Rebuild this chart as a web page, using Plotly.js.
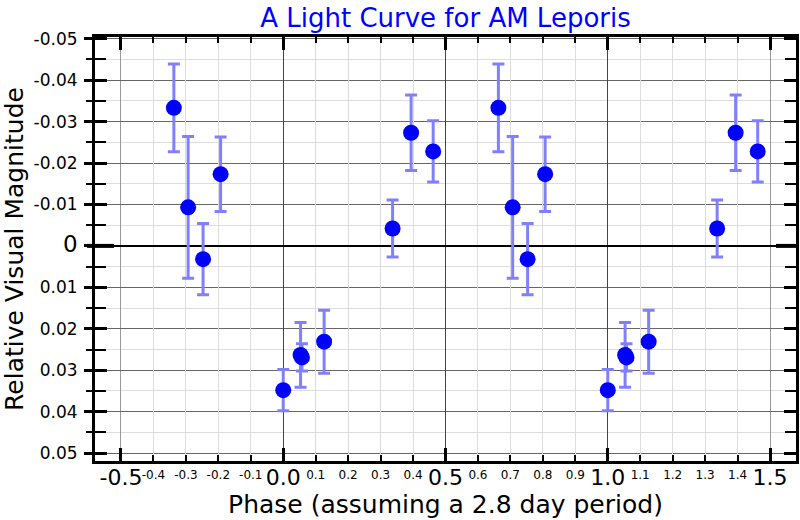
<!DOCTYPE html>
<html>
<head>
<meta charset="utf-8">
<script src="https://cdn.plot.ly/plotly-3.0.1.min.js"></script>
<style>html,body{margin:0;padding:0;background:#fff;}#chart{width:800px;height:520px;}</style>
</head>
<body>
<div id="chart"></div>
<script>
// Phase (0..1) of each observation, magnitude relative to mean, and 1-sigma error
const phases = [0.000, 0.0534, 0.0577, 0.126, 0.337, 0.394, 0.462, 0.663, 0.707, 0.753, 0.807];
const magnitudes = [0.0348, 0.0263, 0.0269, 0.0231, -0.0042, -0.0273, -0.0228, -0.0333, -0.0093, 0.0032, -0.0173];
const errors = [0.0050, 0.0078, 0.0033, 0.0076, 0.0069, 0.0091, 0.0074, 0.0106, 0.0171, 0.0086, 0.0090];

// Tick positions and labels
const xMajorTicks = [-0.5, 0.0, 0.5, 1.0, 1.5];
const xMajorLabels = ["-0.5", "0.0", "0.5", "1.0", "1.5"];
const xMinorTicks = [-0.4, -0.3, -0.2, -0.1, 0.1, 0.2, 0.3, 0.4, 0.6, 0.7, 0.8, 0.9, 1.1, 1.2, 1.3, 1.4];
const xMinorLabels = ["-0.4", "-0.3", "-0.2", "-0.1", "0.1", "0.2", "0.3", "0.4", "0.6", "0.7", "0.8", "0.9", "1.1", "1.2", "1.3", "1.4"];
const xDarkLines = [0.0, 0.5, 1.0];
const yMajorTicks = [-0.05, -0.04, -0.03, -0.02, -0.01, 0, 0.01, 0.02, 0.03, 0.04, 0.05];
const yMajorLabels = ["-0.05", "-0.04", "-0.03", "-0.02", "-0.01", "<span style=\"font-size:23px\">0</span>", "0.01", "0.02", "0.03", "0.04", "0.05"];
const yMinorTicks = [-0.045, -0.035, -0.025, -0.015, -0.005, 0.005, 0.015, 0.025, 0.035, 0.045];

const xRange = [-0.58, 1.58];
const yRange = [0.0519, -0.0504];
const phaseWindow = [-0.5, 1.5];

// The light curve is shown over two cycles: repeat each point one period earlier/later,
// keeping the copies that fall inside the plotted phase window
const xs = [], ys = [], es = [];
[-1, 0, 1].forEach(function (shift) {
  phases.forEach(function (p, i) {
    const ph = p + shift;
    if (ph >= phaseWindow[0] && ph <= phaseWindow[1]) {
      xs.push(ph); ys.push(magnitudes[i]); es.push(errors[i]);
    }
  });
});

const data = [
  {x: xs, y: ys, type: 'scatter', mode: 'markers', xaxis: 'x', yaxis: 'y',
   marker: {color: '#0000ff', size: 16},
   error_y: {type: 'data', array: es, visible: true, color: '#8080ff', thickness: 3, width: 6},
   hoverinfo: 'x+y'},
  {x: [null], y: [null], xaxis: 'x2', yaxis: 'y', mode: 'markers', hoverinfo: 'skip', showlegend: false},
  {x: [null], y: [null], xaxis: 'x3', yaxis: 'y', mode: 'markers', hoverinfo: 'skip', showlegend: false},
  {x: [null], y: [null], xaxis: 'x', yaxis: 'y2', mode: 'markers', hoverinfo: 'skip', showlegend: false}
];

const layout = {
  width: 800, height: 520,
  margin: {l: 95, r: 4, t: 37, b: 59},
  paper_bgcolor: '#ffffff', plot_bgcolor: '#ffffff',
  font: {family: 'DejaVu Sans', color: '#000000'},
  showlegend: false,
  title: {text: 'A Light Curve for AM Leporis', font: {size: 26, color: '#0000ff'}, xref: 'paper', x: 0.5, y: 0.965, yanchor: 'middle'},
  xaxis: {
    range: xRange, tickmode: 'array', tickvals: xMajorTicks, ticktext: xMajorLabels,
    ticks: 'inside', ticklen: 13, tickwidth: 3, tickcolor: '#000',
    showline: true, linewidth: 3, linecolor: '#000', mirror: 'ticks',
    showgrid: true, gridcolor: '#999999', gridwidth: 1, zeroline: false,
    tickfont: {size: 22}, ticklabelstandoff: -5,
    title: {text: 'Phase (assuming a 2.8 day period)', font: {size: 25}, standoff: 0}
  },
  xaxis2: {
    overlaying: 'x', anchor: 'y', side: 'bottom', range: xRange,
    tickmode: 'array', tickvals: xMinorTicks, ticktext: xMinorLabels,
    ticks: 'inside', ticklen: 6, tickwidth: 2, tickcolor: '#000', mirror: 'ticks',
    showline: false, showgrid: true, gridcolor: '#dddddd', gridwidth: 1, zeroline: false,
    tickfont: {size: 12}, ticklabelstandoff: 5
  },
  xaxis3: {
    overlaying: 'x', anchor: 'y', side: 'bottom', range: xRange,
    tickmode: 'array', tickvals: xDarkLines, showticklabels: false, ticks: '',
    showline: false, showgrid: true, gridcolor: '#444444', gridwidth: 1, zeroline: false
  },
  yaxis: {
    range: yRange, tickmode: 'array', tickvals: yMajorTicks, ticktext: yMajorLabels,
    ticks: 'outside', ticklen: 8, tickwidth: 3, tickcolor: '#000',
    showline: true, linewidth: 3, linecolor: '#000', mirror: true,
    showgrid: true, gridcolor: '#666666', gridwidth: 1,
    zeroline: true, zerolinecolor: '#000', zerolinewidth: 1.5,
    minor: {tickvals: yMinorTicks, ticks: 'outside', ticklen: 6, tickwidth: 2, tickcolor: '#000', showgrid: true, gridcolor: '#dddddd', gridwidth: 1},
    tickfont: {size: 17}, ticklabelstandoff: 3,
    title: {text: 'Relative Visual Magnitude', font: {size: 25}, standoff: 8}
  },
  yaxis2: {
    overlaying: 'y', anchor: 'x', side: 'left', range: yRange,
    tickmode: 'array', tickvals: yMajorTicks, showticklabels: false,
    ticks: 'inside', ticklen: 12, tickwidth: 3, tickcolor: '#000', mirror: 'ticks',
    minor: {tickvals: yMinorTicks, ticks: 'inside', ticklen: 11, tickwidth: 2, tickcolor: '#000', showgrid: false},
    showline: false, showgrid: false, zeroline: false
  },
  shapes: [
    {type: 'line', xref: 'paper', yref: 'y', xsizemode: 'pixel', xanchor: 0, x0: -8, x1: 19, y0: 0, y1: 0, line: {color: '#000', width: 4}},
    {type: 'line', xref: 'paper', yref: 'y', xsizemode: 'pixel', xanchor: 1, x0: -20, x1: 0, y0: 0, y1: 0, line: {color: '#000', width: 4}}
  ]
};

Plotly.newPlot('chart', data, layout, {displayModeBar: false, staticPlot: true});
</script>
</body>
</html>
